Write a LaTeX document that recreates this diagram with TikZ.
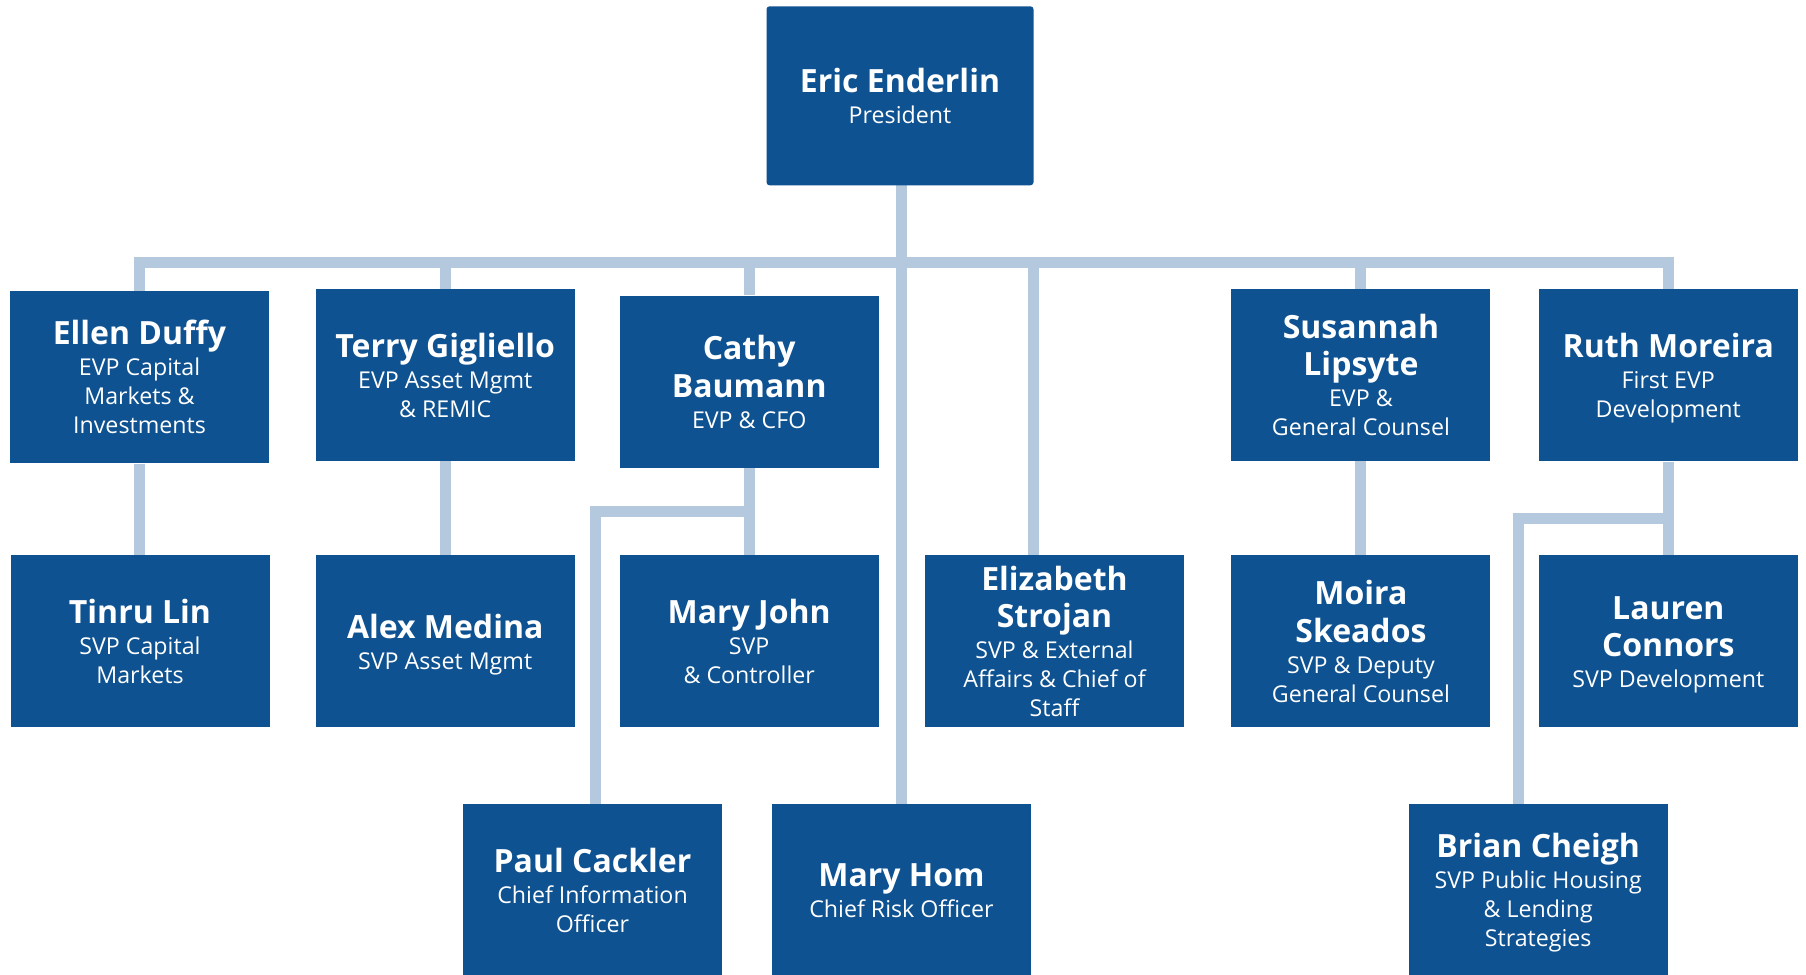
\documentclass[tikz,border=0pt]{standalone}
\usepackage{fontspec}
\setmainfont{Open Sans}
\usetikzlibrary{backgrounds}
\definecolor{boxblue}{RGB}{14,82,145}
\definecolor{linkblue}{RGB}{180,201,221}
\newcommand{\nm}[1]{{\fontsize{16}{19.5}\selectfont\bfseries\rule[-1pt]{0pt}{16.65pt}#1}}
\newcommand{\ts}{\rule[-3.5pt]{0pt}{13.5pt}}
\newcommand{\ttlfont}{\fontsize{11.6}{14.5}\selectfont\lineskiplimit=-100pt\relax}
\tikzset{
  person/.style={fill=boxblue, text=white, inner sep=0pt, minimum width=129.5pt,
    minimum height=86pt, align=center, font=\ttlfont},
  conn/.style={draw=linkblue, line width=5.5pt, line join=miter}
}
\begin{document}
\begin{tikzpicture}[x=0.5pt,y=-0.5pt]
\useasboundingbox (0,0) rectangle (1806,975);
% top
\node[person, minimum width=133.5pt, minimum height=89.5pt, rounded corners=1.5pt] (eric) at (900,95.8) {\nm{Eric Enderlin}\\[1pt] \ts President};
% row 1
\node[person] (ellen) at (139.5,377.2) {\nm{Ellen Duffy}\\[1pt] \ts EVP Capital\\ \ts Markets \&\\ \ts Investments};
\node[person] (terry) at (445.2,374.9) {\nm{Terry Gigliello}\\[1pt] \ts EVP Asset Mgmt\\ \ts \& REMIC};
\node[person] (cathy) at (749.2,381.8) {\nm{Cathy}\\[4.25pt] \nm{Baumann}\\[1pt] \ts EVP \& CFO};
\node[person] (sus) at (1360.9,374.9) {\nm{Susannah}\\[4.25pt] \nm{Lipsyte}\\[1pt] \ts EVP \&\\ \ts General Counsel};
\node[person] (ruth) at (1668.3,375.3) {\nm{Ruth Moreira}\\[1pt] \ts First EVP\\ \ts Development};
% row 2
\node[person] (tinru) at (140,641.4) {\nm{Tinru Lin}\\[1pt] \ts SVP Capital\\ \ts Markets};
\node[person] (alex) at (445.2,641.4) {\nm{Alex Medina}\\[1pt] \ts SVP Asset Mgmt};
\node[person] (mjohn) at (749.2,641.4) {\nm{Mary John}\\[1pt] \ts SVP\\ \ts \& Controller};
\node[person] (elz) at (1054.5,641.4) {\nm{Elizabeth}\\[4.25pt] \nm{Strojan}\\[1pt] \ts SVP \& External\\ \ts Affairs \& Chief of\\ \ts Staff};
\node[person] (moira) at (1360.9,641.4) {\nm{Moira}\\[4.25pt] \nm{Skeados}\\[1pt] \ts SVP \& Deputy\\ \ts General Counsel};
\node[person] (lauren) at (1668.3,641.4) {\nm{Lauren}\\[4.25pt] \nm{Connors}\\[1pt] \ts SVP Development};
% row 3
\node[person] (paul) at (592.5,890.3) {\nm{Paul Cackler}\\[1pt] \ts Chief Information\\ \ts Officer};
\node[person] (hom) at (901.5,890.3) {\nm{Mary Hom}\\[1pt] \ts Chief Risk Officer};
\node[person] (brian) at (1538.2,890.3) {\nm{Brian Cheigh}\\[1pt] \ts SVP Public Housing\\ \ts \& Lending\\ \ts Strategies};
\coordinate (bus) at (0,262.6);
\coordinate (brC) at (0,511.4);
\coordinate (brR) at (0,518.3);
\begin{scope}[on background layer]
\draw[conn] (ellen) -- (ellen |- bus) -- (ruth |- bus) -- (ruth);
\draw[conn] ([xshift=0.8pt]eric.center) -- ([xshift=0.8pt]eric.center |- bus);
\draw[conn] (terry) -- (terry |- bus);
\draw[conn] (cathy) -- (cathy |- bus);
\draw[conn] (sus) -- (sus |- bus);
\draw[conn] ([xshift=-10.5pt]elz.center) -- ([xshift=-10.5pt]elz.center |- bus);
\draw[conn] (hom) -- (hom |- bus);
\draw[conn] (ellen) -- (ellen |- tinru);
\draw[conn] (terry) -- (alex);
\draw[conn] (cathy) -- (mjohn);
\draw[conn] (cathy |- brC) -- ([xshift=1.5pt]paul.center |- brC) -- ([xshift=1.5pt]paul.center);
\draw[conn] (sus) -- (moira);
\draw[conn] (ruth) -- (lauren);
\draw[conn] (ruth |- brR) -- ([xshift=-10pt]brian.center |- brR) -- ([xshift=-10pt]brian.center);
\end{scope}
\end{tikzpicture}
\end{document}
